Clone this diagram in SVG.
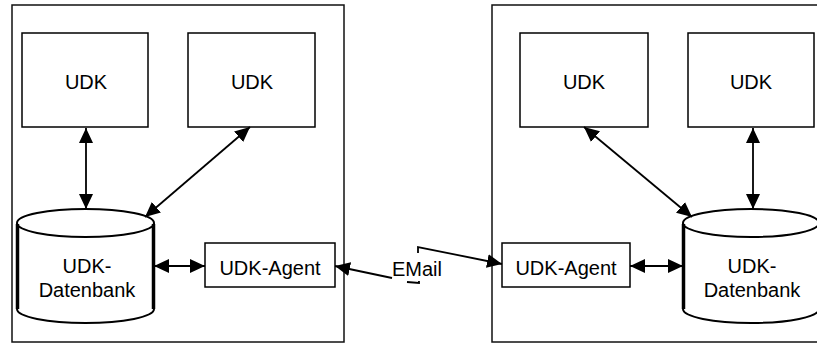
<svg xmlns="http://www.w3.org/2000/svg" width="817" height="343" viewBox="0 0 817 343">
<style>
.frame{fill:none;stroke:#111;stroke-width:1.5}
.box{fill:#fff;stroke:#000;stroke-width:1.5}
.cyl{fill:#fff;stroke:#000;stroke-width:2}
.side{fill:none;stroke:#000;stroke-width:3.5}
.lbl{font-family:"Liberation Sans",Arial,sans-serif;font-size:20px;fill:#000;text-anchor:middle}
.con{fill:none;stroke:#000;stroke-width:1.8}
</style>
<defs>
<marker id="ah" markerUnits="userSpaceOnUse" markerWidth="16" markerHeight="14" refX="15" refY="7" orient="auto-start-reverse">
<path d="M0,0 L15,7 L0,14 Z" fill="#000"/>
</marker>
</defs>
<g id="frame-left"><rect class="frame" x="12" y="5" width="332" height="337"/></g>
<g id="frame-right"><rect class="frame" x="492" y="5" width="340" height="337"/></g>

<g id="udk1"><rect class="box" x="22" y="33" width="126" height="94"/><text class="lbl" x="86" y="89">UDK</text></g>
<g id="udk2"><rect class="box" x="188" y="33" width="127" height="94"/><text class="lbl" x="252" y="89">UDK</text></g>
<g id="udk3"><rect class="box" x="520" y="33" width="128" height="94"/><text class="lbl" x="584" y="89">UDK</text></g>
<g id="udk4"><rect class="box" x="688" y="33" width="126" height="94"/><text class="lbl" x="751" y="89">UDK</text></g>

<g id="db-left">
<path class="cyl" d="M17,223 L17,309 A68.5,14 0 0 0 154,309 L154,223"/>
<ellipse class="cyl" cx="85.5" cy="223" rx="68.5" ry="14"/>
<path class="side" d="M17.5,224 L17.5,309"/>
<path class="side" d="M153.5,224 L153.5,309"/>
<text class="lbl" x="87" y="273">UDK-</text>
<text class="lbl" x="87" y="297">Datenbank</text>
</g>
<g id="db-right">
<path class="cyl" d="M683,223 L683,309 A68,14 0 0 0 819,309 L819,223"/>
<ellipse class="cyl" cx="751" cy="223" rx="68" ry="14"/>
<path class="side" d="M683.5,224 L683.5,309"/>
<text class="lbl" x="752" y="273">UDK-</text>
<text class="lbl" x="752" y="297">Datenbank</text>
</g>

<g id="agent-left"><rect class="box" x="205" y="243" width="130" height="44"/><text class="lbl" x="270" y="275">UDK-Agent</text></g>
<g id="agent-right"><rect class="box" x="502" y="243" width="128" height="44"/><text class="lbl" x="566" y="275">UDK-Agent</text></g>

<g id="connectors">
<line class="con" x1="86" y1="128" x2="86" y2="209" marker-start="url(#ah)" marker-end="url(#ah)"/>
<line class="con" x1="250" y1="127" x2="145" y2="217" marker-start="url(#ah)" marker-end="url(#ah)"/>
<line class="con" x1="154" y1="266" x2="205" y2="266" marker-start="url(#ah)" marker-end="url(#ah)"/>
<line class="con" x1="753" y1="128" x2="753" y2="209" marker-start="url(#ah)" marker-end="url(#ah)"/>
<line class="con" x1="584" y1="127" x2="692" y2="217" marker-start="url(#ah)" marker-end="url(#ah)"/>
<line class="con" x1="630" y1="266" x2="683" y2="266" marker-start="url(#ah)" marker-end="url(#ah)"/>
<line class="con" x1="392" y1="278" x2="335" y2="266" marker-end="url(#ah)"/>
<path class="con" d="M418,253 L418,247 L502,264" marker-end="url(#ah)"/>
<path class="con" d="M407,282 L419,283 L419,281"/>
</g>
<g id="email-label"><text class="lbl" x="417" y="276">EMail</text></g>
</svg>
